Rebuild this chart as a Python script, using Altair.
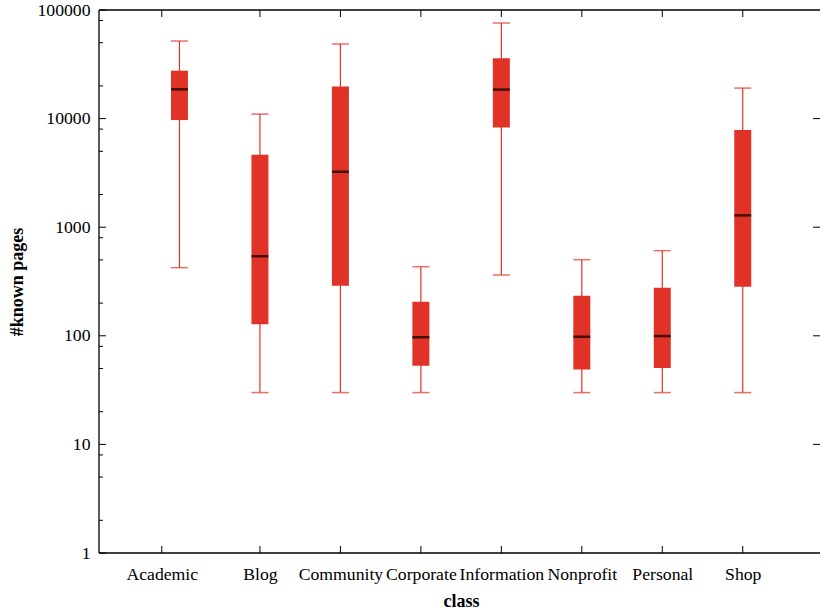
import json
import altair as alt
import pandas as pd

# ---- data -------------------------------------------------------------
classes = ["Academic", "Blog", "Community", "Corporate",
           "Information", "Nonprofit", "Personal", "Shop"]
whisker_low = [424, 30, 30, 30, 363, 30, 30, 30]
q1 = [9700, 128, 289, 53, 8300, 49, 50.5, 283]
median = [18600, 540, 3240, 97, 18500, 98, 99.5, 1285]
q3 = [27600, 4650, 19700, 206, 35900, 234, 277, 7850]
whisker_high = [51800, 11000, 48600, 433, 75900, 502, 608, 19100]

y_major = [1, 10, 100, 1000, 10000, 100000]
y_minor = [2, 5, 8, 20, 50, 80, 200, 500, 800,
           2000, 5000, 8000, 20000, 50000, 80000]
y_right = [10, 100, 1000, 10000]

# ---- tables -----------------------------------------------------------
df = pd.DataFrame({
    "cls": classes,
    "pos": list(range(len(classes))),
    "lo": whisker_low, "q1": q1, "med": median, "q3": q3, "hi": whisker_high,
})
caps = pd.concat([
    pd.DataFrame({"pos": df["pos"], "v": df["lo"]}),
    pd.DataFrame({"pos": df["pos"], "v": df["hi"]}),
], ignore_index=True)

# first category's tick/label sits a bit left of its box in the reference
xtick_values = [i - 0.22 if i == 0 else i for i in range(len(classes))]
xticks = pd.DataFrame({"v": xtick_values})

W, H = 721, 543
FONT = "Liberation Serif"
RED = "#e03226"
LABEL_SIZE = 17.7

xscale = alt.Scale(domain=[-1, 7.96], nice=False, zero=False, padding=0)
yscale = alt.Scale(type="log", domain=[1, 100000], nice=False, padding=0)

label_expr = json.dumps(classes) + "[round(datum.value)]"

xaxis = alt.Axis(
    values=xtick_values, labelExpr=label_expr, ticks=False, domain=False,
    grid=False, labelFont=FONT, labelFontSize=LABEL_SIZE, labelColor="black",
    labelPadding=12, title="class", titleFont=FONT, titleFontSize=18,
    titleFontWeight="bold", titleColor="black", titleX=362, titleY=48,
    titleBaseline="middle", titleAlign="center")
yaxis = alt.Axis(
    values=y_major, format="d", ticks=False, domain=False, grid=False,
    labelFont=FONT, labelFontSize=LABEL_SIZE, labelColor="black",
    labelPadding=9,
    title="#known pages", titleFont=FONT, titleFontSize=18,
    titleFontWeight="bold", titleColor="black", titleX=-82, titleY=271.5,
    titleAngle=270, titleAlign="center", titleBaseline="middle")


def X(field):
    return alt.X(field, scale=xscale, axis=xaxis)


def Y(field):
    return alt.Y(field, scale=yscale, axis=yaxis)


whisk = alt.Chart(df).mark_rule(color=RED, strokeWidth=1.2).encode(
    x=X("pos:Q"), y=Y("lo:Q"), y2="hi:Q")

cap_marks = alt.Chart(caps).mark_tick(
    orient="horizontal", size=17, thickness=1.5, color=RED
).encode(x=X("pos:Q"), y=Y("v:Q"))

boxes = alt.Chart(df).mark_bar(size=17, color=RED).encode(
    x=X("pos:Q"), y=Y("q1:Q"), y2="q3:Q")

medians = alt.Chart(df).mark_tick(
    orient="horizontal", size=17, thickness=2.5, color="black"
).encode(x=X("pos:Q"), y=Y("med:Q"))


# inward ticks, gnuplot style
def yticks(values, x0, x1):
    return alt.Chart(pd.DataFrame({"v": values})).mark_rule(
        color="black", strokeWidth=1).encode(
        y=Y("v:Q"), x=alt.value(x0), x2=alt.value(x1))


def xtick_layer(y0, y1):
    return alt.Chart(xticks).mark_rule(color="black", strokeWidth=1).encode(
        x=X("v:Q"), y=alt.value(y0), y2=alt.value(y1))


# plot frame (left, top, bottom edges)
frame_df = pd.DataFrame({"edge": ["frame"]})
frame_left = alt.Chart(frame_df).mark_rule(color="black", strokeWidth=1.3).encode(
    x=alt.value(0), y=alt.value(0), y2=alt.value(H))
frame_top = alt.Chart(frame_df).mark_rule(color="black", strokeWidth=1.3).encode(
    x=alt.value(0), x2=alt.value(W), y=alt.value(0))
frame_bottom = alt.Chart(frame_df).mark_rule(color="black", strokeWidth=1.3).encode(
    x=alt.value(0), x2=alt.value(W), y=alt.value(H))

chart = alt.layer(
    whisk, cap_marks, boxes, medians,
    yticks(y_major, 0, 7), yticks(y_minor, 0, 4), yticks(y_right, W - 7, W),
    xtick_layer(H, H - 7), xtick_layer(0, 7),
    frame_left, frame_top, frame_bottom,
).properties(
    width=W, height=H,
    autosize=alt.AutoSizeParams(type="none"),
    padding={"left": 99, "top": 10, "right": 0, "bottom": 60},
).configure(
    background="white",
    view=alt.ViewConfig(stroke=None),
)

chart.save("out.html", embed_options={"renderer": "svg", "actions": False})
